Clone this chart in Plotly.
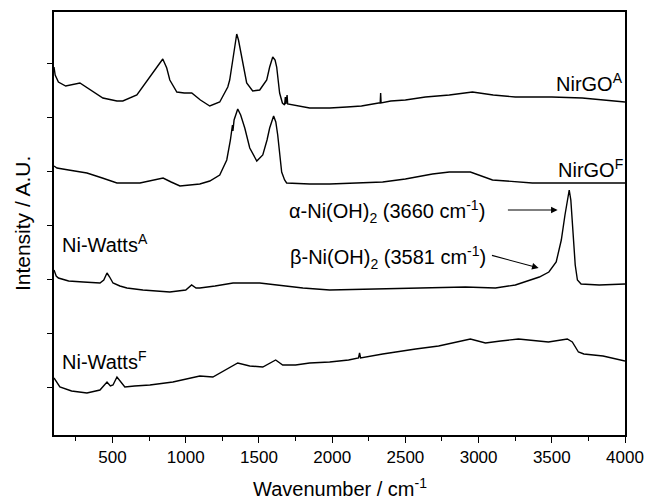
import plotly.graph_objects as go

# ---- data (wavenumber / cm-1, intensity in arbitrary units, offset-stacked) ----
nirgo_a_x = [100, 108, 130, 180, 277, 330, 366, 434, 530, 570, 666, 755, 800, 843, 870, 891, 939, 990,
             1041, 1100, 1164, 1232, 1287, 1300, 1321, 1348, 1360, 1382, 1416, 1457, 1505, 1553, 1573,
             1594, 1610, 1621, 1641, 1660, 1675, 1680, 1684, 1692, 1696, 1846, 1983, 2100, 2200, 2317,
             2328, 2331, 2334, 2400, 2500, 2637, 2800, 2958, 3100, 3251, 3500, 3708, 3850, 4000]
nirgo_a_y = [368, 360, 353, 349, 352, 347, 343, 337, 334, 334, 340, 358, 367, 376, 367, 355, 343, 342,
             342, 335, 329, 333, 348, 355, 375, 401, 395, 378, 352, 344, 345, 355, 368,
             378, 375, 368, 342, 332, 330, 338, 331, 340, 331, 327, 327, 328, 329, 332,
             332, 342, 332, 334, 335, 338, 340, 343, 340, 338, 338, 337, 335, 333]

nirgo_f_x = [100, 120, 200, 325, 430, 530, 687, 780, 845, 900, 960, 1096, 1164, 1232, 1280, 1305, 1319,
             1322, 1330, 1355, 1375, 1403, 1437, 1485, 1526, 1555, 1573, 1600, 1615, 1628, 1645, 1655,
             1675, 1689, 1846, 1983, 2345, 2500, 2685, 2800, 2944, 3000, 3095, 3367, 4000]
nirgo_f_y = [269, 267, 265, 262, 257, 252, 252, 255, 257, 253, 249, 251, 254, 260, 275, 295, 310,
             304, 315, 326, 320, 307, 287, 274, 280, 295, 307, 319, 313, 300, 275, 263,
             255, 252, 251, 251, 253, 256, 261, 263, 263, 260, 255, 252, 252]

niwatts_a_x = [100, 115, 130, 200, 300, 414, 440, 462, 480, 503, 550, 598, 707, 800, 891, 1000, 1040,
               1070, 1096, 1200, 1323, 1505, 1621, 1800, 1983, 2345, 2910, 3115, 3251, 3415, 3480, 3530,
               3565, 3590, 3605, 3619, 3630, 3645, 3660, 3675, 3700, 3824, 4000]
niwatts_a_y = [165, 159, 157, 154, 153, 152, 155, 162, 158, 152, 149, 147, 145, 144, 143, 145, 150,
               147, 147, 149, 152, 152, 150, 147, 145, 146, 148, 147, 150, 158, 163, 173,
               195, 220, 235, 245, 235, 205, 170, 155, 151, 150, 151]

niwatts_f_x = [100, 140, 220, 325, 414, 440, 462, 485, 503, 530, 560, 584, 650, 755, 912, 1048, 1096,
               1185, 1270, 1355, 1437, 1526, 1614, 1662, 1750, 1846, 1983, 2112, 2180, 2187, 2194, 2345,
               2570, 2727, 2944, 3047, 3150, 3272, 3477, 3606, 3640, 3682, 3719, 3850, 4000]
niwatts_f_y = [57, 48, 44, 42, 45, 49, 53, 49, 50, 58, 52, 48, 49, 50, 53, 57, 59,
               58, 65, 72, 69, 68, 75, 70, 70, 72, 73, 75, 77, 82, 77, 81,
               86, 89, 96, 92, 94, 96, 93, 96, 93, 83, 81, 79, 74]

x_tick_vals = [500, 1000, 1500, 2000, 2500, 3000, 3500, 4000]
x_tick_text = ["500", "1000", "1500", "2000", "2500", "3000", "3500", "4000"]

FONT = "Liberation Sans, Arial, Helvetica, sans-serif"

fig = go.Figure()
for xs, ys, name in [(nirgo_a_x, nirgo_a_y, "NirGO A"), (nirgo_f_x, nirgo_f_y, "NirGO F"),
                     (niwatts_a_x, niwatts_a_y, "Ni-Watts A"), (niwatts_f_x, niwatts_f_y, "Ni-Watts F")]:
    fig.add_trace(go.Scatter(x=xs, y=ys, mode="lines", name=name,
                             line=dict(color="black", width=1.4), showlegend=False))

ann_font = dict(family=FONT, size=20, color="black")
annotations = [
    dict(x=4000, y=353, xref="x", yref="y", text="NirGO<sup>A</sup>", showarrow=False,
         xanchor="right", yanchor="middle", font=ann_font),
    dict(x=4000, y=267, xref="x", yref="y", text="NirGO<sup>F</sup>", showarrow=False,
         xanchor="right", yanchor="middle", font=ann_font),
    dict(x=142, y=192, xref="x", yref="y", text="Ni-Watts<sup>A</sup>", showarrow=False,
         xanchor="left", yanchor="middle", font=ann_font),
    dict(x=142, y=75, xref="x", yref="y", text="Ni-Watts<sup>F</sup>", showarrow=False,
         xanchor="left", yanchor="middle", font=ann_font),
    dict(x=1688, y=224, xref="x", yref="y", text="α-Ni(OH)<sub>2</sub> (3660 cm<sup>-1</sup>)",
         showarrow=False, xanchor="left", yanchor="middle", font=ann_font),
    dict(x=1698, y=178, xref="x", yref="y", text="β-Ni(OH)<sub>2</sub> (3581 cm<sup>-1</sup>)",
         showarrow=False, xanchor="left", yanchor="middle", font=ann_font),
    # arrows
    dict(x=3540, y=225, ax=3190, ay=225, xref="x", yref="y", axref="x", ayref="y", text="",
         showarrow=True, arrowhead=2, arrowsize=1.2, arrowwidth=1.1, arrowcolor="black"),
    dict(x=3410, y=167, ax=3081, ay=180, xref="x", yref="y", axref="x", ayref="y", text="",
         showarrow=True, arrowhead=2, arrowsize=1.2, arrowwidth=1.1, arrowcolor="black"),
    # axis titles
    dict(x=-0.055, y=0.5, xref="paper", yref="paper", text="Intensity / A.U.", textangle=-90,
         showarrow=False, xanchor="center", yanchor="middle",
         font=dict(family=FONT, size=21, color="black")),
    dict(x=0.5, y=-0.125, xref="paper", yref="paper", text="Wavenumber / cm<sup>-1</sup>",
         showarrow=False, xanchor="center", yanchor="middle", font=ann_font),
]

fig.update_layout(
    width=646, height=499,
    margin=dict(l=54, r=21, t=12, b=64, pad=0, autoexpand=False),
    paper_bgcolor="white", plot_bgcolor="white",
    font=dict(family=FONT, color="black"),
    annotations=annotations,
)
fig.update_xaxes(
    range=[100, 4000], showgrid=False, zeroline=False, automargin=False,
    showline=True, linecolor="black", linewidth=1.5, mirror=True,
    tickmode="array", tickvals=x_tick_vals, ticktext=x_tick_text,
    ticks="outside", ticklen=6, tickwidth=1.3, tickcolor="black",
    tickfont=dict(family=FONT, size=17, color="black"),
    minor=dict(dtick=250, tick0=0, ticks="outside", ticklen=4, tickwidth=1.3, tickcolor="black"),
)
fig.update_yaxes(
    range=[0, 423], showgrid=False, zeroline=False, automargin=False,
    showline=True, linecolor="black", linewidth=1.5, mirror=True,
    tickmode="linear", tick0=48, dtick=54,
    ticks="outside", ticklen=5, tickwidth=1.3, tickcolor="black",
    showticklabels=False,
)

fig.write_html("out.html")
